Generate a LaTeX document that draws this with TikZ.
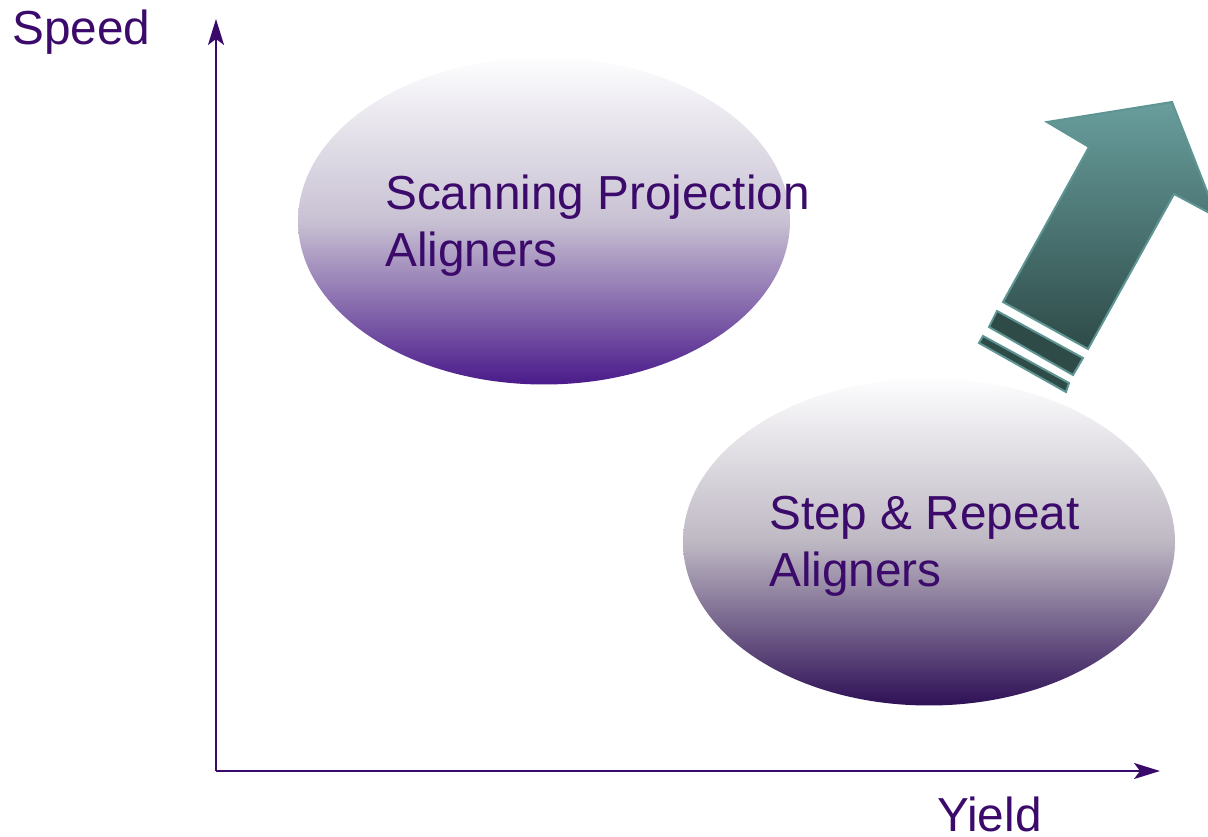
\documentclass[tikz,border=0pt]{standalone}
\usepackage{fontspec}
\setmainfont{Liberation Sans}
\usetikzlibrary{shapes.geometric,arrows.meta}
\definecolor{txtpurple}{HTML}{3B0A6B}
\definecolor{axpurple}{HTML}{3A0A6A}
\definecolor{ellbotA}{HTML}{4A1A8A}
\definecolor{ellmidA}{HTML}{C8C1D3}
\definecolor{ellbotB}{HTML}{2E1056}
\definecolor{ellmidB}{HTML}{BEB8C3}
\definecolor{elltop}{HTML}{FDFDFE}
\definecolor{arrtop}{HTML}{689E9D}
\definecolor{arrbot}{HTML}{2E4B48}
\definecolor{arredge}{HTML}{5E9592}
\tikzset{
  lbl/.style={font=\fontsize{35.8}{42.75}\selectfont, text=txtpurple, inner sep=0pt, anchor=base west},
  blob/.style={ellipse, minimum width=369pt, minimum height=245.25pt, inner sep=0pt, draw=none},
  axis/.style={draw=axpurple, line width=1.5pt, -{Stealth[length=19.5pt,width=12pt,inset=4.5pt]}},
  bigarrow/.style={draw=arredge, line width=1.5pt, line join=miter, top color=arrtop, bottom color=arrbot},
  stripe/.style={draw=arredge, line width=1.5pt, fill=arrbot}
}
\begin{document}
\begin{tikzpicture}[x=0.75pt,y=-0.75pt]
\useasboundingbox (0,0) rectangle (1208,837);
\clip (0,0) rectangle (1208,837);
% ellipses
\node[blob, top color=elltop, bottom color=ellbotA, middle color=ellmidA] (e1) at (544,221) {};
\node[blob, top color=elltop, bottom color=ellbotB, middle color=ellmidB] (e2) at (929,542) {};
% axes
\coordinate (o) at (216,771);
\coordinate (ytop) at (216,19);
\coordinate (xend) at (1160,771);
\draw[axis] (o) -- (ytop);
\draw[axis] (o) -- (xend);
% labels
\node[lbl] (speed) at (12,45) {Speed};
\node[lbl] (yield) at (937,832) {Yield};
\node[lbl, align=left] (t1) at (385,267) {Scanning Projection\\Aligners};
\node[lbl, align=left] (t2) at (769,587) {Step \& Repeat\\Aligners};
% big arrow
\path[bigarrow] (1003,302) -- (1089,147) -- (1047,122) -- (1172,102) -- (1217,217) -- (1174,194) -- (1088,349) -- cycle;
\path[stripe] (997,311) -- (1083,358) -- (1073,375) -- (989,327) -- cycle;
\path[stripe] (983,336) -- (1069,383) -- (1066,392) -- (979,343) -- cycle;
\end{tikzpicture}
\end{document}
